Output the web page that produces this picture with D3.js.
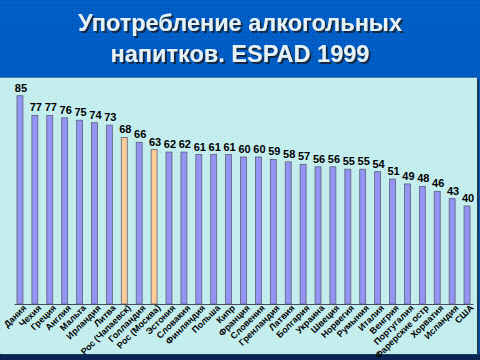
<!DOCTYPE html>
<html>
<head>
<meta charset="utf-8">
<script src="https://cdn.jsdelivr.net/npm/d3@7"></script>
<style>
  html, body { margin: 0; padding: 0; background: #0058c0; }
  svg { display: block; }
</style>
</head>
<body>
<div id="chart"></div>
<script>
// данные ESPAD 1999
const countries = ['Дания', 'Чехия', 'Греция', 'Англия', 'Мальта', 'Ирландия', 'Литва',
  'Рос (Чапаевск)', 'Голландия', 'Рос (Москва)', 'Эстония', 'Словакия', 'Финляндия',
  'Польша', 'Кипр', 'Франция', 'Словения', 'Гренландия', 'Латвия', 'Болгария', 'Украина',
  'Швеция', 'Норвегия', 'Румыния', 'Италия', 'Венгрия', 'Португалия', 'Фарерские остр',
  'Хорватия', 'Исландия', 'США'];
const values = [85, 77, 77, 76, 75, 74, 73, 68, 66, 63, 62, 62, 61, 61, 61, 60, 60, 59,
  58, 57, 56, 56, 55, 55, 54, 51, 49, 48, 46, 43, 40];
const highlighted = ['Рос (Чапаевск)', 'Рос (Москва)'];
const titleLines = ['Употребление алкогольных', 'напитков. ESPAD 1999'];

const width = 480, height = 360;

const svg = d3.select('#chart')
  .append('svg')
  .attr('width', width)
  .attr('height', height);

const defs = svg.append('defs');

// фон слайда
const bg = defs.append('linearGradient').attr('id', 'bg').attr('x1', 0).attr('y1', 0).attr('x2', 0).attr('y2', 1);
bg.append('stop').attr('offset', '0%').attr('stop-color', '#0060c8');
bg.append('stop').attr('offset', '100%').attr('stop-color', '#0050b8');

const dots = defs.append('pattern').attr('id', 'dots')
  .attr('width', 4).attr('height', 4).attr('patternUnits', 'userSpaceOnUse');
dots.append('rect').attr('width', 1).attr('height', 1).attr('fill', '#0048a8');

const pdots = defs.append('pattern').attr('id', 'pdots')
  .attr('width', 8).attr('height', 8).attr('patternUnits', 'userSpaceOnUse');
pdots.append('rect').attr('width', 1).attr('height', 1).attr('fill', '#b2dede');

// тень заголовка
defs.append('filter').attr('id', 'shadow')
  .append('feDropShadow')
  .attr('dx', 2).attr('dy', 2).attr('stdDeviation', 0.6)
  .attr('flood-color', '#142238').attr('flood-opacity', 0.9);

svg.append('rect').attr('width', width).attr('height', height).attr('fill', 'url(#bg)');
svg.append('rect').attr('width', width).attr('height', 78).attr('fill', 'url(#dots)');
svg.append('rect').attr('y', 354).attr('width', width).attr('height', 6).attr('fill', '#0a2454');

// панель графика
svg.append('rect').attr('x', 2).attr('y', 79).attr('width', 477).attr('height', 276).attr('fill', '#1c3a5c');
svg.append('rect').attr('x', 0).attr('y', 77).attr('width', 477).attr('height', 277).attr('fill', '#c4eeee');
svg.append('rect').attr('x', 0).attr('y', 77).attr('width', 477).attr('height', 277).attr('fill', 'url(#pdots)');
svg.append('line').attr('x1', 0).attr('x2', 477).attr('y1', 77.5).attr('y2', 77.5)
  .attr('stroke', '#5a7f9a').attr('stroke-width', 1);

// заголовок
const title = svg.append('g')
  .attr('font-family', 'Arial, "Liberation Sans", sans-serif')
  .attr('font-weight', 'bold')
  .attr('font-size', 23.5)
  .attr('text-anchor', 'middle')
  .attr('fill', '#e4f2f6')
  .attr('filter', 'url(#shadow)');
titleLines.forEach((t, i) => {
  title.append('text').attr('x', 240).attr('y', 31 + i * 31).text(t);
});

// шкалы
const x = d3.scaleBand()
  .domain(countries)
  .range([14, 473])
  .paddingInner(0.6)
  .paddingOuter(0.2);

const y = d3.scaleLinear()
  .domain([0, 90])
  .range([304, 83.5]);

// столбцы
svg.append('g')
  .selectAll('rect')
  .data(countries)
  .enter()
  .append('rect')
  .attr('x', d => x(d))
  .attr('y', (d, i) => y(values[i]))
  .attr('width', x.bandwidth())
  .attr('height', (d, i) => y(0) - y(values[i]))
  .attr('fill', d => highlighted.includes(d) ? '#ffcc99' : '#9494f4')
  .attr('stroke', '#5e5e78')
  .attr('stroke-width', 0.8);

// подписи значений
svg.append('g')
  .selectAll('text')
  .data(countries)
  .enter()
  .append('text')
  .attr('x', d => x(d) + x.bandwidth() / 2 + 1)
  .attr('y', (d, i) => y(values[i]) - 4)
  .attr('text-anchor', 'middle')
  .attr('font-family', 'Arial, "Liberation Sans", sans-serif')
  .attr('font-weight', 'bold')
  .attr('font-size', 11)
  .attr('fill', '#000')
  .text((d, i) => values[i]);

// ось X
const xAxis = svg.append('g')
  .attr('transform', `translate(0,${y(0)})`)
  .call(d3.axisBottom(x).tickSize(0).tickPadding(0));

xAxis.select('.domain').attr('stroke', '#4a4a60').attr('stroke-width', 1.2);
xAxis.selectAll('text')
  .attr('font-family', 'Arial, "Liberation Sans", sans-serif')
  .attr('font-weight', 'bold')
  .attr('font-size', 9)
  .attr('fill', '#000')
  .attr('text-anchor', 'end')
  .attr('dy', 0)
  .attr('transform', 'translate(7,4.5) rotate(-45)');
</script>
</body>
</html>
